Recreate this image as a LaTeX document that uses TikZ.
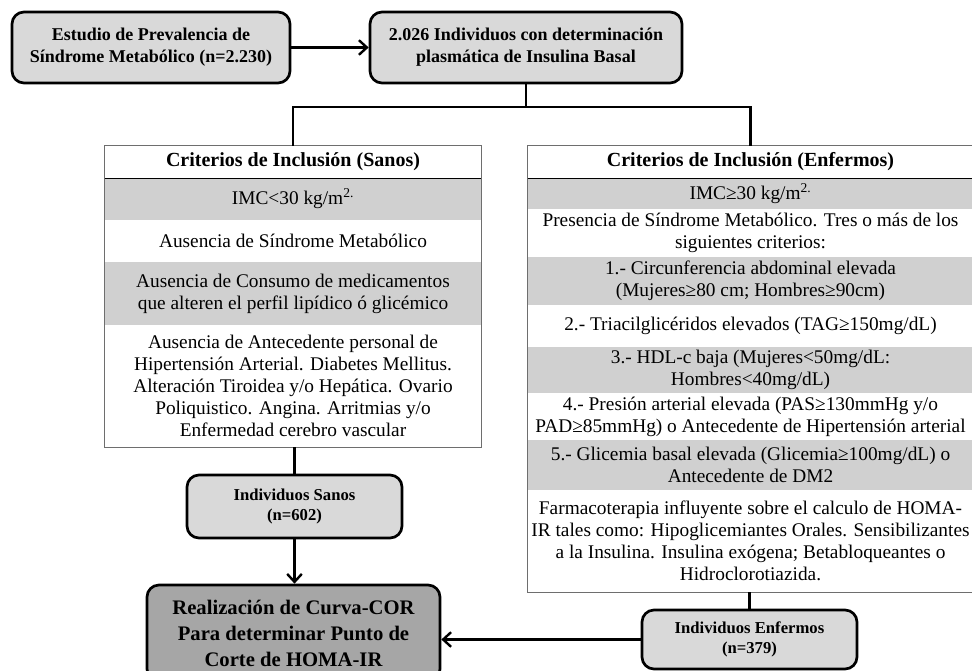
\documentclass[tikz,border=0pt]{standalone}
\usepackage{fontspec}
\setmainfont{Liberation Serif}
\usetikzlibrary{arrows.meta, positioning, calc}
\definecolor{boxgray}{RGB}{217,217,217}
\definecolor{darkbox}{RGB}{166,166,166}
\definecolor{bandgray}{RGB}{208,208,208}
\definecolor{tabrule}{RGB}{110,110,110}

\begin{document}
\begin{tikzpicture}[x=0.75pt, y=-0.75pt,
  box/.style={draw, line width=2pt, rounded corners=9pt, fill=boxgray, align=center,
    inner sep=0pt, font=\bfseries\fontsize{13.5}{16.5}\selectfont},
  smallbox/.style={box, font=\bfseries\fontsize{12.5}{15.5}\selectfont},
  row/.style={inner sep=0pt, align=center, font=\fontsize{14.5}{16.5}\selectfont},
  band/.style={row, fill=bandgray},
  headrow/.style={row, font=\bfseries\fontsize{15}{17}\selectfont},
  tabline/.style={draw=tabrule, line width=0.8pt},
  link/.style={line width=1.8pt},
  arrow/.style={link, -{Straight Barb[length=6pt, width=11pt]}}]
  \useasboundingbox (0,0) rectangle (972,671);

  % top boxes
  \node[box, minimum width=208.5pt, minimum height=53.25pt] (estudio) at (151,47.5)
    {Estudio de Prevalencia de\\ Síndrome Metabólico (n=2.230)};
  \node[box, minimum width=234pt, minimum height=53.25pt] (insulina) at (526,47.5)
    {2.026 Individuos con determinación\\ plasmática de Insulina Basal};
  \coordinate (split) at (526,107);

  % criterios sanos
  \begin{scope}[row/.append style={minimum width=282pt}]
    \node[headrow, minimum width=282pt, minimum height=24pt] (sh) at (293,162) {Criterios de Inclusión (Sanos)};
    \node[band, minimum height=31.5pt] (s1) at (293,199) {IMC<30 kg/m\textsuperscript{2.}};
    \node[row, minimum height=31.5pt] (s2) at (293,241) {Ausencia de Síndrome Metabólico};
    \node[band, minimum height=47.25pt] (s3) at (293,293.5)
      {Ausencia de Consumo de medicamentos\\ que alteren el perfil lipídico ó glicémico};
    \node[row, minimum height=91.5pt] (s4) at (293,386)
      {Ausencia de Antecedente personal de\\ Hipertensión Arterial. Diabetes Mellitus.\\
       Alteración Tiroidea y/o Hepática. Ovario\\ Poliquistico. Angina. Arritmias y/o\\
       Enfermedad cerebro vascular};
  \end{scope}
  \draw[tabline] (sh.north west) rectangle (s4.south east);
  \draw[line width=0.8pt] (sh.south west) -- (sh.south east);

  % criterios enfermos
  \begin{scope}[row/.append style={minimum width=333.75pt}]
    \node[headrow, minimum width=333.75pt, minimum height=24pt] (eh) at (750.5,162) {Criterios de Inclusión (Enfermos)};
    \node[band, minimum height=23.25pt] (e1) at (750.5,193.5) {IMC≥30 kg/m\textsuperscript{2.}};
    \node[row, minimum height=36pt] (e2) at (750.5,233)
      {Presencia de Síndrome Metabólico. Tres o más de los\\ siguientes criterios:};
    \node[band, minimum height=36pt] (e3) at (750.5,281)
      {1.- Circunferencia abdominal elevada\\ (Mujeres≥80 cm; Hombres≥90cm)};
    \node[row, minimum height=31.5pt] (e4) at (750.5,326)
      {2.- Triacilglicéridos elevados (TAG≥150mg/dL)};
    \node[band, minimum height=34.5pt] (e5) at (750.5,370)
      {3.- HDL-c baja (Mujeres<50mg/dL:\\ Hombres<40mg/dL)};
    \node[row, minimum height=35.25pt] (e6) at (750.5,416.5)
      {4.- Presión arterial elevada (PAS≥130mmHg y/o\\ PAD≥85mmHg) o Antecedente de Hipertensión arterial};
    \node[band, minimum height=37.5pt] (e7) at (750.5,465)
      {5.- Glicemia basal elevada (Glicemia≥100mg/dL) o\\ Antecedente de DM2};
    \node[row, minimum height=76.5pt] (e8) at (750.5,541)
      {Farmacoterapia influyente sobre el calculo de HOMA-\\ IR tales como: Hipoglicemiantes Orales. Sensibilizantes\\
       a la Insulina. Insulina exógena; Betabloqueantes o\\ Hidroclorotiazida.};
  \end{scope}
  \draw[tabline] (eh.north west) rectangle (e8.south east);
  \draw[line width=0.8pt] (eh.south west) -- (eh.south east);

  % bottom boxes
  \node[smallbox, minimum width=161.25pt, minimum height=47.25pt] (sanos) at (294.5,506.5)
    {Individuos Sanos\\ (n=602)};
  \node[box, fill=darkbox, minimum width=219.75pt, minimum height=72pt,
    font=\bfseries\fontsize{15.5}{19.5}\selectfont] (curva) at (293.5,633)
    {Realización de Curva-COR\\ Para determinar Punto de\\ Corte de HOMA-IR};
  \node[smallbox, minimum width=161.25pt, minimum height=44.25pt] (enfermos) at (749.5,639.5)
    {Individuos Enfermos\\ (n=379)};

  % connectors
  \draw[arrow] (estudio) -- (insulina);
  \draw[link] (insulina.south) -- (split);
  \draw[link] (sh.north) |- (split) -| (eh.north);
  \draw[link] (sanos.north) -- (sanos.north |- s4.south);
  \draw[arrow] (sanos.south) -- (sanos.south |- curva.north);
  \draw[link] (enfermos.north) -- (enfermos.north |- e8.south);
  \draw[arrow] (enfermos.west) -- (enfermos.west -| curva.east);
\end{tikzpicture}
\end{document}
